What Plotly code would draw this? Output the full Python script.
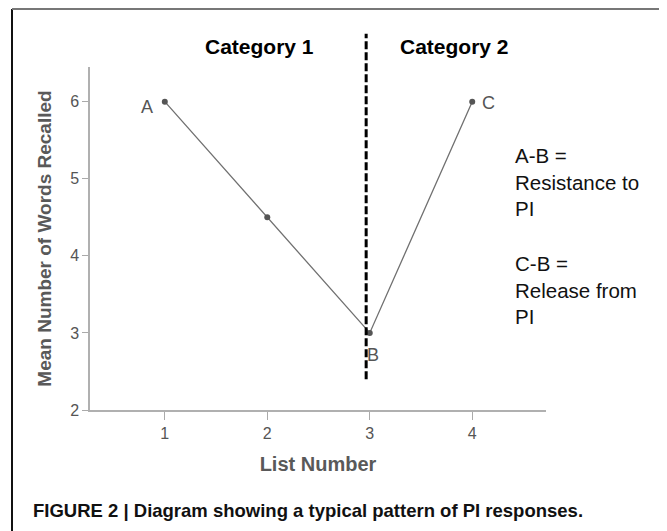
import plotly.graph_objects as go

# ---- data ----
list_numbers = [1, 2, 3, 4]
mean_words = [6, 4.5, 3, 6]
point_labels = ["A", "", "B", "C"]
label_shift_x = [-18, 0, 3, 16]
label_shift_y = [-5, 0, -22, -1]
x_ticks = [1, 2, 3, 4]
y_ticks = [2, 3, 4, 5, 6]
x_range = [0.27, 4.72]
y_range = [2.0, 6.45]
divider_x = 2.965
divider_y = [2.4, 6.88]
category_titles = ["Category 1", "Category 2"]
category_x = [1.92, 3.83]
note_lines_1 = "A-B =<br>Resistance to<br>PI"
note_lines_2 = "C-B =<br>Release from<br>PI"
caption = "FIGURE 2 | Diagram showing a typical pattern of PI responses."

# the page body has a default 8px margin; target positions are in window pixels
OFF = 8
W, H = 667, 531
plot_left, plot_right, plot_top, plot_bottom = 90, 546, 67, 410  # window pixels
L = plot_left - OFF
T = plot_top - OFF
plot_w = plot_right - plot_left
plot_h = plot_bottom - plot_top
R = W - L - plot_w
B = H - T - plot_h


def ypaper(v):
    return (v - y_range[0]) / (y_range[1] - y_range[0])


def px_to_paper_x(px):
    return (px - plot_left) / plot_w


def px_to_paper_y(py):
    return (plot_bottom - py) / plot_h


fig = go.Figure()
fig.add_trace(go.Scatter(
    x=list_numbers, y=mean_words, mode="lines+markers",
    line=dict(color="#707070", width=1.3),
    marker=dict(color="#555555", size=6),
    showlegend=False, hoverinfo="x+y",
))

annotations = []
for xv, yv, lab, sx, sy in zip(list_numbers, mean_words, point_labels, label_shift_x, label_shift_y):
    if lab:
        annotations.append(dict(x=xv, y=yv, xref="x", yref="y", text=lab, showarrow=False,
                                xshift=sx, yshift=sy,
                                font=dict(family="Arial, Liberation Sans", size=18, color="#555555")))

for t, cx in zip(category_titles, category_x):
    annotations.append(dict(x=cx, y=px_to_paper_y(33), xref="x", yref="paper", text="<b>" + t + "</b>",
                        showarrow=False, font=dict(family="Arial, Liberation Sans", size=21, color="#000000")))

annotations.append(dict(x=px_to_paper_x(513), y=px_to_paper_y(182), xref="paper", yref="paper",
                        text=note_lines_1, showarrow=False, xanchor="left", yanchor="middle", align="left",
                        font=dict(family="Arial, Liberation Sans", size=20.5, color="#111111")))
annotations.append(dict(x=px_to_paper_x(513), y=px_to_paper_y(290), xref="paper", yref="paper",
                        text=note_lines_2, showarrow=False, xanchor="left", yanchor="middle", align="left",
                        font=dict(family="Arial, Liberation Sans", size=20.5, color="#111111")))
annotations.append(dict(x=px_to_paper_x(31), y=px_to_paper_y(510), xref="paper", yref="paper",
                        text="<b>" + caption + "</b>", showarrow=False, xanchor="left", yanchor="middle",
                        font=dict(family="Arial, Liberation Sans", size=18.5, color="#111111")))

shapes = [
    dict(type="line", xref="x", yref="paper", x0=divider_x, x1=divider_x,
         y0=ypaper(divider_y[0]), y1=ypaper(divider_y[1]),
         line=dict(color="#000000", width=3, dash="8px,3px")),
    # frame
    dict(type="line", xref="paper", yref="paper", x0=px_to_paper_x(12), x1=px_to_paper_x(12),
         y0=px_to_paper_y(9), y1=px_to_paper_y(560), line=dict(color="#111111", width=2)),
    dict(type="line", xref="paper", yref="paper", x0=px_to_paper_x(12), x1=px_to_paper_x(664),
         y0=px_to_paper_y(9), y1=px_to_paper_y(9), line=dict(color="#777777", width=2)),
    dict(type="line", xref="paper", yref="paper", x0=px_to_paper_x(663), x1=px_to_paper_x(663),
         y0=px_to_paper_y(9), y1=px_to_paper_y(560), line=dict(color="#333333", width=2)),
]

axis_font = dict(family="Arial, Liberation Sans", size=16, color="#555555")
fig.update_layout(
    width=W, height=H,
    margin=dict(l=L, r=R, t=T, b=B, pad=0),
    paper_bgcolor="white", plot_bgcolor="white",
    annotations=annotations, shapes=shapes,
    xaxis=dict(range=x_range, tickvals=x_ticks, ticks="outside", ticklen=8, tickcolor="#aaaaaa",
               showline=True, linecolor="#b0b0b0", linewidth=1.5, showgrid=False, zeroline=False,
               tickfont=axis_font, tickangle=0,
               title=dict(text="<b>List Number</b>", standoff=16,
                          font=dict(family="Arial, Liberation Sans", size=20, color="#595959"))),
    yaxis=dict(range=y_range, tickvals=y_ticks, ticks="outside", ticklen=6, tickcolor="#aaaaaa",
               showline=True, linecolor="#b0b0b0", linewidth=1.5, showgrid=False, zeroline=False,
               tickfont=axis_font, tickangle=0,
               title=dict(text="<b>Mean Number of Words Recalled</b>", standoff=13,
                          font=dict(family="Arial, Liberation Sans", size=19, color="#595959"))),
)

fig.write_html("out.html")
